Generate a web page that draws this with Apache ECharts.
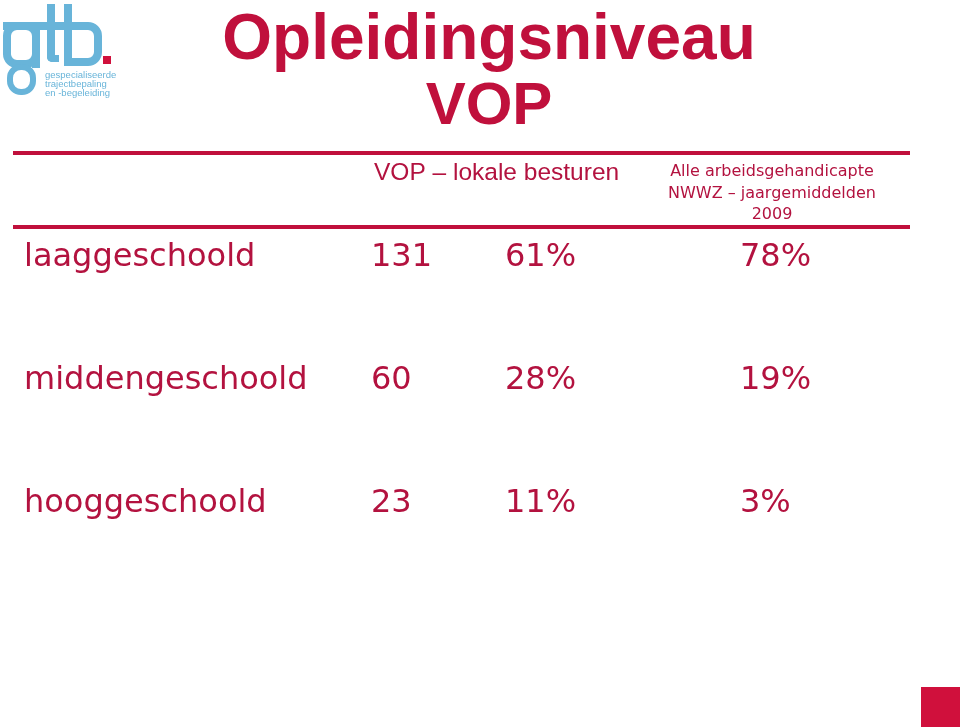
<!DOCTYPE html>
<html>
<head>
<meta charset="utf-8">
<script src="https://cdn.jsdelivr.net/npm/echarts@6/dist/echarts.min.js"></script>
<style>html,body{margin:0;padding:0;background:#fff}#c{width:960px;height:727px}</style>
</head>
<body>
<div id="c"></div>
<script>
// ---- data ----
const titleLines = ['Opleidingsniveau', 'VOP'];
const headerLeft = 'VOP – lokale besturen';
const headerRight = ['Alle arbeidsgehandicapte', 'NWWZ – jaargemiddelden', '2009'];
const categories = ['laaggeschoold', 'middengeschoold', 'hooggeschoold'];
const vopCounts = [131, 60, 23];
const vopShares = [61, 28, 11];
const nwwzShares = [78, 19, 3];
const logoLines = ['gespecialiseerde', 'trajectbepaling', 'en -begeleiding'];

// ---- style ----
const RED = '#c0103c';
const TXT = '#b3123f';
const BLUE = '#68b4d9';
const colOffsets = [0, 134, 369];
const titleSizes = [64, 60];

const chart = echarts.init(document.getElementById('c'), null, {renderer: 'canvas'});

const graphic = [];
// title
titleLines.forEach((t, i) => {
  graphic.push({type: 'text', x: 489, y: 41 + i * 66,
    style: {text: t, font: 'bold ' + titleSizes[i] + 'px "Liberation Sans", Arial, sans-serif', fill: RED,
      textAlign: 'center', textVerticalAlign: 'middle'}});
});
// lines
[153, 227].forEach(y => graphic.push({type: 'rect', shape: {x: 13, y: y - 2, width: 897, height: 4}, style: {fill: RED}}));
// header
graphic.push({type: 'text', x: 374, y: 173,
  style: {text: headerLeft, font: '24.5px "Liberation Sans", Arial, sans-serif', fill: TXT, textVerticalAlign: 'middle'}});
headerRight.forEach((t, i) => {
  graphic.push({type: 'text', x: 772, y: 172 + i * 21.5,
    style: {text: t, font: '16px "DejaVu Sans", Verdana, sans-serif', fill: TXT, textAlign: 'center', textVerticalAlign: 'middle'}});
});
// logo
graphic.push({type: 'rect', shape: {x: 7, y: 26, width: 29, height: 38, r: 10}, style: {fill: 'none', stroke: BLUE, lineWidth: 8}});
graphic.push({type: 'rect', shape: {x: 32, y: 26, width: 8, height: 42}, style: {fill: BLUE}});
graphic.push({type: 'rect', shape: {x: 10, y: 67, width: 23, height: 25, r: 11}, style: {fill: 'none', stroke: BLUE, lineWidth: 6}});
graphic.push({type: 'rect', shape: {x: 3, y: 22, width: 68, height: 8}, style: {fill: BLUE}});
graphic.push({type: 'rect', shape: {x: 47, y: 4, width: 8, height: 58, r: [0, 0, 0, 5]}, style: {fill: BLUE}});
graphic.push({type: 'rect', shape: {x: 47, y: 55, width: 12, height: 7, r: [0, 0, 0, 5]}, style: {fill: BLUE}});
graphic.push({type: 'rect', shape: {x: 64, y: 4, width: 8, height: 62}, style: {fill: BLUE}});
graphic.push({type: 'rect', shape: {x: 68, y: 26, width: 30, height: 36, r: [0, 10, 10, 0]}, style: {fill: 'none', stroke: BLUE, lineWidth: 8}});
graphic.push({type: 'rect', shape: {x: 103, y: 56, width: 8, height: 8}, style: {fill: '#d0103c'}});
logoLines.forEach((t, i) => {
  graphic.push({type: 'text', x: 45, y: 75 + i * 9,
    style: {text: t, font: '9.5px "Liberation Sans", Arial, sans-serif', fill: BLUE, textVerticalAlign: 'middle'}});
});
// corner square
graphic.push({type: 'rect', shape: {x: 921, y: 687, width: 39, height: 40}, style: {fill: '#d0103c'}});

const rows = categories.map((c, i) => [0, i, vopCounts[i], vopShares[i], nwwzShares[i]]);

chart.setOption({
  animation: false,
  grid: {left: 371, right: 40, top: 196.5, height: 369},
  xAxis: {type: 'value', min: 0, max: 1, show: false},
  yAxis: {type: 'category', inverse: true, data: categories,
    axisLine: {show: false}, axisTick: {show: false}, splitLine: {show: false},
    axisLabel: {show: true, align: 'left', margin: 347, color: TXT, fontSize: 32,
      fontFamily: '"DejaVu Sans", Verdana, sans-serif'}},
  graphic: graphic,
  series: [{
    type: 'custom',
    clip: false,
    data: rows,
    encode: {x: 0, y: 1},
    renderItem: function (params, api) {
      const p = api.coord([0, api.value(1)]);
      const vals = [String(api.value(2)), api.value(3) + '%', api.value(4) + '%'];
      return {type: 'group', children: vals.map((v, k) => ({
        type: 'text', x: p[0] + colOffsets[k], y: p[1],
        style: {text: v, fill: TXT, font: '32px "DejaVu Sans", Verdana, sans-serif',
          textAlign: 'left', textVerticalAlign: 'middle'}
      }))};
    }
  }]
});
</script>
</body>
</html>
